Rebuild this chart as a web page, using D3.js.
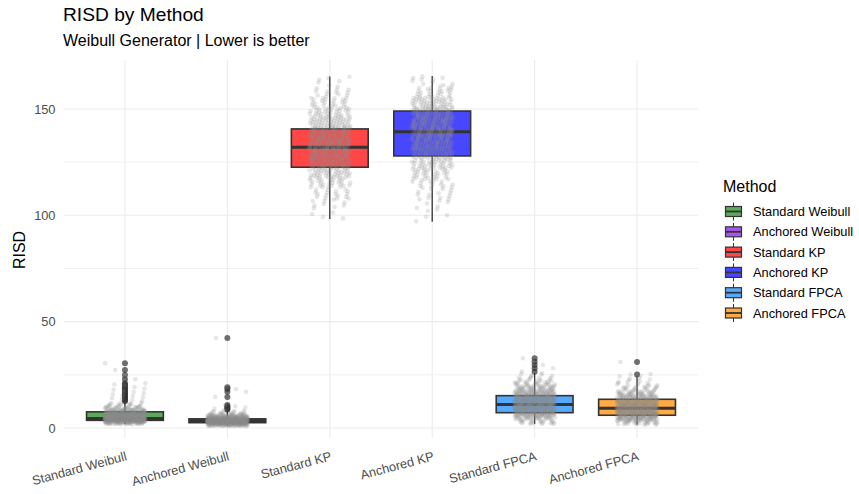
<!DOCTYPE html>
<html>
<head>
<meta charset="utf-8">
<script src="https://cdn.jsdelivr.net/npm/d3@7"></script>
<style>
  html, body { margin: 0; padding: 0; background: #ffffff; }
  svg { display: block; font-family: "Liberation Sans", Arial, Helvetica, sans-serif; }
</style>
</head>
<body>
<svg id="chart" width="859" height="494"></svg>
<script>
// ---- Data ---------------------------------------------------------------
const methods = ["Standard Weibull", "Anchored Weibull", "Standard KP", "Anchored KP", "Standard FPCA", "Anchored FPCA"];
const fills   = ["#5aaa5a", "#a855f0", "#ff4747", "#4747ff", "#55aaff", "#ffaa44"];

// five-number summaries (whisker ends, quartiles, median)
const whiskerLo = [1.8, 0.9, 98.3, 97.0, 1.9, 1.5];
const q1        = [3.6, 2.5, 122.6, 127.9, 7.2, 6.0];
const median    = [4.5, 3.4, 132.0, 139.3, 11.1, 9.3];
const q3        = [7.6, 4.3, 140.6, 149.0, 15.2, 13.5];
const whiskerHi = [12.0, 8.2, 165.2, 165.5, 25.7, 24.2];

// observations beyond the whiskers
const outliers = [
  [12.6, 13.1, 13.6, 14.0, 14.5, 15.0, 15.4, 15.9, 16.4, 16.9, 17.4, 18.0, 18.6, 19.2, 19.9, 20.5, 21.0, 22.9, 24.9, 27.3, 30.4],
  [8.6, 9.1, 9.6, 10.2, 10.8, 14.6, 17.0, 18.3, 19.2, 42.3],
  [],
  [],
  [26.5, 28.1, 29.6, 31.2, 32.8],
  [25.1, 31.0]
];

// per-run RISD values inside the whiskers, as histogram counts
const binStart = [1.8, 0.9, 98.3, 97.0, 1.9, 1.5];
const binWidth = [1.02, 1.04, 4.78, 4.89, 2.0, 2.0];
const binCounts = [
  [40, 100, 105, 85, 60, 42, 28, 18, 11, 7],
  [55, 135, 135, 95, 45, 18, 8],
  [4, 9, 17, 27, 42, 58, 72, 76, 68, 50, 34, 22, 13, 6],
  [3, 6, 11, 17, 26, 37, 52, 62, 72, 72, 64, 44, 24, 10],
  [20, 40, 60, 72, 76, 72, 62, 48, 34, 22, 12, 6],
  [28, 62, 78, 80, 74, 62, 45, 30, 18, 10, 6, 3]
];

const yTicks = [0, 50, 100, 150];
const yMinor = [25, 75, 125];

// ---- Layout -------------------------------------------------------------
const svg = d3.select("#chart");
const panel = { left: 63.5, right: 698.5, top: 60, bottom: 438 };

const x = d3.scalePoint().domain(methods).range([panel.left, panel.right]).padding(0.6);
const step = x.step();
const y = d3.scaleLinear().domain([-4.7, 173]).range([panel.bottom, panel.top]);
const color = d3.scaleOrdinal().domain(methods).range(fills);

const boxW = 0.75 * step;
const jitterW = 0.2 * step;

// ---- Grid ---------------------------------------------------------------
const grid = svg.append("g");
grid.selectAll("line.minor").data(yMinor).join("line")
  .attr("x1", panel.left).attr("x2", panel.right)
  .attr("y1", d => y(d)).attr("y2", d => y(d))
  .attr("stroke", "#ececec").attr("stroke-width", 0.8);
grid.selectAll("line.major").data(yTicks).join("line")
  .attr("x1", panel.left).attr("x2", panel.right)
  .attr("y1", d => y(d)).attr("y2", d => y(d))
  .attr("stroke", "#ebebeb").attr("stroke-width", 1.1);
grid.selectAll("line.vert").data(methods).join("line")
  .attr("x1", d => x(d)).attr("x2", d => x(d))
  .attr("y1", panel.top).attr("y2", panel.bottom)
  .attr("stroke", "#ebebeb").attr("stroke-width", 1.1);

// ---- Axes ---------------------------------------------------------------
const yAxis = d3.axisLeft(y).tickValues(yTicks).tickSize(0).tickPadding(8);
const gy = svg.append("g").attr("transform", `translate(${panel.left},0)`).call(yAxis);
gy.select(".domain").remove();
gy.selectAll("text").attr("fill", "#4d4d4d").style("font-size", "12.8px")
  .style("font-family", "'Liberation Sans', Arial, sans-serif");

const xAxis = d3.axisBottom(x).tickSize(0);
const gx = svg.append("g").attr("transform", `translate(0,${panel.bottom})`).call(xAxis);
gx.select(".domain").remove();
gx.selectAll(".tick text")
  .attr("fill", "#4d4d4d").style("font-size", "12.8px")
  .style("font-family", "'Liberation Sans', Arial, sans-serif")
  .attr("text-anchor", "end")
  .attr("dy", null)
  .attr("x", 2).attr("y", 22)
  .attr("transform", "rotate(-15, 2, 22)");

// ---- Boxplots -----------------------------------------------------------
const boxes = svg.append("g");
methods.forEach((m, i) => {
  const cx = x(m);
  const g = boxes.append("g");
  g.append("line")
    .attr("x1", cx).attr("x2", cx)
    .attr("y1", y(whiskerLo[i])).attr("y2", y(q1[i]))
    .attr("stroke", "#333333").attr("stroke-width", 1.3);
  g.append("line")
    .attr("x1", cx).attr("x2", cx)
    .attr("y1", y(q3[i])).attr("y2", y(whiskerHi[i]))
    .attr("stroke", "#333333").attr("stroke-width", 1.3);
  g.append("rect")
    .attr("x", cx - boxW / 2).attr("width", boxW)
    .attr("y", y(q3[i])).attr("height", y(q1[i]) - y(q3[i]))
    .attr("fill", color(m)).attr("stroke", "#333333").attr("stroke-width", 1.6);
  g.append("line")
    .attr("x1", cx - boxW / 2).attr("x2", cx + boxW / 2)
    .attr("y1", y(median[i])).attr("y2", y(median[i]))
    .attr("stroke", "#333333").attr("stroke-width", 3);
  g.selectAll("circle").data(outliers[i]).join("circle")
    .attr("cx", cx).attr("cy", d => y(d)).attr("r", 3)
    .attr("fill", "#333333").attr("fill-opacity", 0.7);
});

// ---- Jittered runs ------------------------------------------------------
// each run sits in its histogram bin; positions inside the bin and across
// the jitter band follow an R2 low-discrepancy layout
const g2 = 1.32471795724;
const a1 = 1 / g2, a2 = 1 / (g2 * g2);
const frac = v => v - Math.floor(v);
const runs = [];
methods.forEach((m, i) => {
  let k = 0;
  binCounts[i].forEach((n, b) => {
    for (let j = 0; j < n; j++, k++) {
      const u = frac(0.5 + a1 * (k + 7 * i));
      const v = frac(0.5 + a2 * (k + 7 * i));
      runs.push({ m, val: binStart[i] + (b + v) * binWidth[i], off: (2 * u - 1) });
    }
  });
  outliers[i].forEach(val => {
    const u = frac(0.5 + a1 * (k + 7 * i)); k++;
    runs.push({ m, val, off: (2 * u - 1) });
  });
});
svg.append("g").selectAll("circle").data(runs).join("circle")
  .attr("cx", d => x(d.m) + d.off * jitterW)
  .attr("cy", d => y(d.val))
  .attr("r", 2.3)
  .attr("fill", "#8f8f8f").attr("fill-opacity", 0.22);

// ---- Titles -------------------------------------------------------------
svg.append("text").attr("x", 63).attr("y", 21)
  .style("font-size", "19.2px").attr("fill", "#000").text("RISD by Method");
svg.append("text").attr("x", 63).attr("y", 46)
  .style("font-size", "16px").attr("fill", "#000").text("Weibull Generator | Lower is better");
svg.append("text")
  .attr("transform", "translate(25,250) rotate(-90)")
  .attr("text-anchor", "middle")
  .style("font-size", "16px").attr("fill", "#000").text("RISD");

// ---- Legend -------------------------------------------------------------
const legend = svg.append("g").attr("transform", "translate(723,0)");
legend.append("text").attr("x", 0).attr("y", 191.5)
  .style("font-size", "16px").attr("fill", "#000").text("Method");
const rowH = 20.3;
const items = legend.selectAll("g.item").data(methods).join("g")
  .attr("transform", (d, i) => `translate(0,${211.5 + i * rowH})`);
items.append("line").attr("x1", 10.5).attr("x2", 10.5).attr("y1", -9).attr("y2", 9)
  .attr("stroke", "#333333").attr("stroke-width", 1);
items.append("rect").attr("x", 2.5).attr("y", -5).attr("width", 16).attr("height", 10)
  .attr("fill", d => color(d)).attr("stroke", "#333333").attr("stroke-width", 1.2);
items.append("line").attr("x1", 2.5).attr("x2", 18.5).attr("y1", 0).attr("y2", 0)
  .attr("stroke", "#333333").attr("stroke-width", 1.8);
items.append("text").attr("x", 30).attr("y", 0).attr("dy", "0.36em")
  .style("font-size", "12.8px").attr("fill", "#000").text(d => d);
</script>
</body>
</html>
